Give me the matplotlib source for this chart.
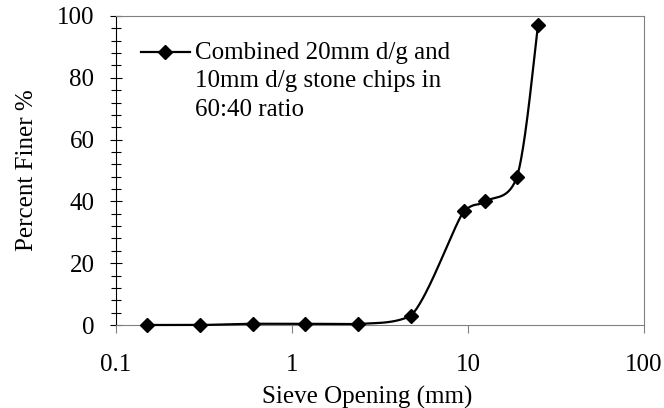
import numpy as np
import matplotlib
matplotlib.use("Agg")
import matplotlib.pyplot as plt
from matplotlib.ticker import FixedLocator, MultipleLocator, NullLocator

sieve_mm = [0.15, 0.3, 0.6, 1.18, 2.36, 4.75, 9.5, 12.5, 19.0, 25.0]
percent_finer = [0.0, 0.0, 0.4, 0.4, 0.3, 3.0, 37.0, 40.0, 48.0, 97.0]
x_ticks = [0.1, 1, 10, 100]
x_tick_labels = ["0.1", "1", "10", "100"]
legend_label = "Combined 20mm d/g and\n10mm d/g stone chips in\n60:40 ratio"

plt.rcParams['font.family'] = ['Liberation Serif', 'DejaVu Serif']

fig = plt.figure(figsize=(6.64, 4.08), dpi=100)
ax = fig.add_axes([116/664, 1-325/408, (644-116)/664, (325-16)/408])
ax.set_xscale('log')
ax.set_xlim(0.1, 100)
ax.set_ylim(0, 100)

# Smoothed line drawn through the data points (Bezier, limited overshoot)
def smooth(xs, ys, n=40):
    px = np.log10(np.asarray(xs, float)) / 3.0 * 528
    py = np.asarray(ys, float) / 100.0 * 309
    P = np.column_stack([px, py])
    out = []
    m = len(P)
    for i in range(m - 1):
        p0 = P[i - 1] if i > 0 else P[i]
        p1 = P[i]
        p2 = P[i + 1]
        p3 = P[i + 2] if i + 2 < m else P[i + 1]
        c1 = p1 + (p2 - p0) / 6.0
        c2 = p2 - (p3 - p1) / 6.0
        lo, hi = min(p1[1], p2[1]), max(p1[1], p2[1])
        c1[1] = np.clip(c1[1], lo, hi)
        c2[1] = np.clip(c2[1], lo, hi)
        t = np.linspace(0, 1, n)[:, None]
        seg = ((1 - t) ** 3) * p1 + 3 * ((1 - t) ** 2) * t * c1 + 3 * (1 - t) * t ** 2 * c2 + t ** 3 * p2
        out.append(seg if i == 0 else seg[1:])
    S = np.vstack(out)
    return 10 ** (S[:, 0] / 528 * 3.0), S[:, 1] / 309 * 100

sx, sy = smooth(sieve_mm, percent_finer)
ax.plot(sx, sy, color='black', lw=1.6, zorder=3, clip_on=False)
ax.plot(sieve_mm, percent_finer, linestyle='none', marker='D', ms=7.5, color='black', zorder=4, clip_on=False)

# Legend (Excel style: handle beside the first line of a wrapped label)
ax.plot([0.047, 0.14], [0.883, 0.883], transform=ax.transAxes, color='black', lw=1.6)
ax.plot([0.0935], [0.883], transform=ax.transAxes, marker='D', ms=7, color='black', linestyle='none')
ax.text(0.149, 0.915, legend_label, transform=ax.transAxes, ha='left', va='top',
        fontsize=18, linespacing=1.36)

ax.xaxis.set_major_locator(FixedLocator(x_ticks))
ax.set_xticklabels(x_tick_labels)
ax.xaxis.set_minor_locator(NullLocator())
ax.yaxis.set_major_locator(MultipleLocator(20))
ax.yaxis.set_minor_locator(MultipleLocator(4))
ax.tick_params(axis='x', which='major', direction='out', length=6, width=0.8, colors='#808080', labelcolor='black', labelsize=18, pad=15)
ax.tick_params(axis='y', which='major', direction='inout', length=9, width=0.8, labelsize=18, pad=11)
ax.tick_params(axis='y', which='minor', direction='inout', length=7, width=0.8)
for s in ['top', 'right', 'bottom']:
    ax.spines[s].set_color('#808080')
ax.spines['left'].set_color('black')

ax.set_xlabel('Sieve Opening (mm)', fontsize=18)
ax.xaxis.set_label_coords(0.475, -0.197)
ax.set_ylabel('Percent Finer %', fontsize=18, labelpad=14)

fig.savefig('out.png', dpi=100)
